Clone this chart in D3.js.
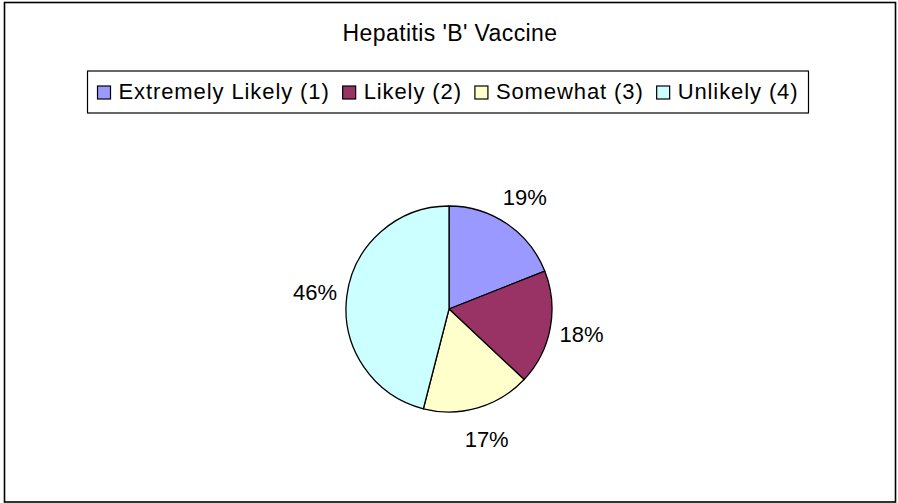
<!DOCTYPE html>
<html>
<head>
<meta charset="utf-8">
<script src="https://cdn.jsdelivr.net/npm/d3@7"></script>
<style>
  html, body { margin: 0; padding: 0; background: #fff; }
  svg { display: block; font-family: "Liberation Sans", Arial, sans-serif; }
</style>
</head>
<body>
<svg id="chart" width="898" height="503"></svg>
<script>
// Survey responses for the Hepatitis 'B' vaccine question
const categories = ["Extremely Likely (1)", "Likely (2)", "Somewhat (3)", "Unlikely (4)"];
const values = [19, 18, 17, 46];
const colors = ["#9999FF", "#993366", "#FFFFCC", "#CCFFFF"];
const title = "Hepatitis 'B' Vaccine";

const svg = d3.select("#chart");
const W = 898, H = 503;

// Chart area frame
svg.append("rect")
  .attr("x", 4.5).attr("y", 2.5)
  .attr("width", 891).attr("height", 499.5)
  .attr("fill", "#fff")
  .attr("stroke", "#000")
  .attr("stroke-width", 1.6);

// Title
svg.append("text")
  .attr("x", 450).attr("y", 41)
  .attr("text-anchor", "middle")
  .attr("font-size", 23)
  .attr("letter-spacing", 0.4)
  .attr("fill", "#000")
  .text(title);

// Legend
const legend = svg.append("g");
const legendBox = legend.append("rect")
  .attr("fill", "#fff")
  .attr("stroke", "#000")
  .attr("stroke-width", 1.2);

const swatch = 13, swatchGap = 8, itemGap = 13, padX = 10;
const items = legend.selectAll("g.item")
  .data(categories)
  .join("g")
  .attr("class", "item");

items.append("rect")
  .attr("width", swatch).attr("height", swatch)
  .attr("y", 86)
  .attr("fill", (d, i) => colors[i])
  .attr("stroke", "#000")
  .attr("stroke-width", 1.2);

items.append("text")
  .attr("y", 99)
  .attr("x", swatch + swatchGap)
  .attr("font-size", 22)
  .attr("letter-spacing", 0.9)
  .attr("fill", "#000")
  .text(d => d);

// Lay the legend items out in a row, centered on the chart
const widths = [];
items.each(function() {
  const tw = d3.select(this).select("text").node().getComputedTextLength();
  widths.push(swatch + swatchGap + tw);
});
const totalW = d3.sum(widths) + itemGap * (widths.length - 1);
const boxW = totalW + 2 * padX;
const boxX = 448 - boxW / 2;
let cx = boxX + padX;
items.attr("transform", (d, i) => {
  const t = `translate(${cx},0)`;
  cx += widths[i] + itemGap;
  return t;
});
legendBox
  .attr("x", boxX).attr("y", 71)
  .attr("width", boxW).attr("height", 42);

// Pie
const center = [449, 309];
const radius = 103;
const pie = d3.pie().sort(null).value(d => d);
const arcs = pie(values);
const arc = d3.arc().innerRadius(0).outerRadius(radius);
const labelArc = d3.arc().innerRadius(135).outerRadius(135);

const g = svg.append("g").attr("transform", `translate(${center[0]},${center[1]})`);

g.selectAll("path")
  .data(arcs)
  .join("path")
  .attr("d", arc)
  .attr("fill", (d, i) => colors[i])
  .attr("stroke", "#000")
  .attr("stroke-width", 1.3)
  .attr("stroke-linejoin", "round");

const total = d3.sum(values);
g.selectAll("text.pct")
  .data(arcs)
  .join("text")
  .attr("class", "pct")
  .attr("transform", d => `translate(${labelArc.centroid(d)})`)
  .attr("text-anchor", "middle")
  .attr("dy", "0.36em")
  .attr("font-size", 22)
  .attr("fill", "#000")
  .text(d => Math.round(d.data / total * 100) + "%");
</script>
</body>
</html>
